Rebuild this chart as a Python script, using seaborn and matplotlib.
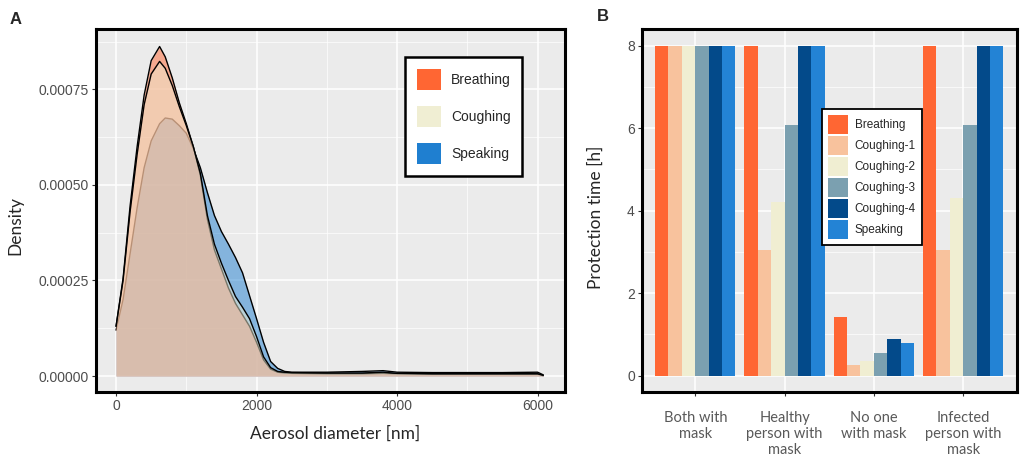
import pandas as pd
import seaborn as sns
import matplotlib.pyplot as plt
from matplotlib.patches import Patch

# === data ===
diam_nm = [0, 100, 200, 300, 400, 500, 620, 700, 800, 900, 1000, 1100, 1200, 1300,
           1400, 1500, 1600, 1700, 1800, 1900, 2000, 2100, 2200, 2300, 2400, 2500,
           3000, 3500, 3800, 4000, 4500, 5000, 5500, 6000, 6080]
# density in units of 1e-4
dens_breathing = [1.3, 2.55, 4.45, 6.0, 7.35, 8.25, 8.62, 8.35, 7.8, 7.15, 6.6, 6.0, 5.25, 4.1,
                  3.3, 2.8, 2.3, 1.9, 1.6, 1.3, 0.88, 0.42, 0.18, 0.1, 0.08, 0.07,
                  0.06, 0.06, 0.07, 0.06, 0.05, 0.05, 0.05, 0.05, 0.01]
dens_coughing = [1.3, 2.5, 4.3, 5.8, 7.1, 7.9, 8.23, 8.05, 7.6, 7.05, 6.55, 6.0, 5.3, 4.2,
                 3.45, 2.95, 2.5, 2.08, 1.8, 1.5, 1.03, 0.5, 0.22, 0.12, 0.1, 0.09,
                 0.08, 0.08, 0.1, 0.07, 0.06, 0.06, 0.06, 0.06, 0.02]
dens_speaking = [1.2, 2.0, 3.2, 4.4, 5.45, 6.15, 6.6, 6.75, 6.72, 6.55, 6.35, 5.95, 5.45, 4.8,
                 4.2, 3.78, 3.45, 3.1, 2.7, 2.1, 1.5, 0.88, 0.38, 0.2, 0.12, 0.1,
                 0.1, 0.12, 0.14, 0.1, 0.09, 0.09, 0.09, 0.1, 0.03]

scenarios = ["Both with\nmask", "Healthy\nperson with\nmask", "No one\nwith mask",
             "Infected\nperson with\nmask"]
activities = ["Breathing", "Coughing-1", "Coughing-2", "Coughing-3", "Coughing-4", "Speaking"]
hours_breathing = [8, 8, 1.43, 8]
hours_cough1 = [8, 3.04, 0.25, 3.04]
hours_cough2 = [8, 4.22, 0.36, 4.30]
hours_cough3 = [8, 6.09, 0.55, 6.09]
hours_cough4 = [8, 8, 0.89, 8]
hours_speaking = [8, 8, 0.78, 8]

# === style ===
sns.set_theme(style="darkgrid")
plt.rcParams["font.family"] = ["Liberation Sans", "DejaVu Sans"]
bg = "#EBEBEB"
tick_col = "#4D4D4D"

dens_colors = {"Breathing": "#FF6633", "Coughing": "#F0EED3", "Speaking": "#1F7FD0"}
bar_colors = ["#FF6633", "#F8C29D", "#F0EED2", "#7BA0B0", "#034A8A", "#2383D5"]

fig = plt.figure(figsize=(10.21, 4.58), dpi=100)
axA = fig.add_axes([0.0937, 0.1441, 0.4597, 0.7919])
axB = fig.add_axes([0.6285, 0.1441, 0.3673, 0.7919])


def style_axes(ax):
    ax.set_facecolor(bg)
    ax.grid(True, which="major", color="white", linewidth=1.1)
    ax.grid(True, which="minor", color="white", linewidth=0.5)
    for s in ax.spines.values():
        s.set_visible(True)
        s.set_color("black")
        s.set_linewidth(2.2)
    ax.tick_params(axis="both", which="major", length=3, width=0.8, color="#333333",
                   labelcolor=tick_col, labelsize=10, pad=2, bottom=True, left=True)
    ax.tick_params(axis="both", which="minor", length=0)


# === panel A : densities ===
dens = pd.DataFrame({
    "diam": diam_nm * 3,
    "density": [v * 1e-4 for v in dens_speaking + dens_breathing + dens_coughing],
    "Type": ["Speaking"] * len(diam_nm) + ["Breathing"] * len(diam_nm) + ["Coughing"] * len(diam_nm),
})
for z, name in enumerate(["Speaking", "Breathing", "Coughing"]):
    sub = dens[dens["Type"] == name]
    axA.fill_between(sub["diam"], sub["density"], 0, color=dens_colors[name], alpha=0.5,
                     linewidth=0, zorder=2 + 2 * z)
    sns.lineplot(data=sub, x="diam", y="density", color="black", linewidth=1.0,
                 ax=axA, zorder=3 + 2 * z, estimator=None, sort=False)

style_axes(axA)
axA.set_xlim(-290, 6390)
axA.set_ylim(-0.0000418, 0.000907)
axA.set_xticks([0, 2000, 4000, 6000])
axA.set_xticks([1000, 3000, 5000], minor=True)
axA.set_yticks([0, 0.00025, 0.0005, 0.00075])
axA.set_yticks([0.000125, 0.000375, 0.000625, 0.000875], minor=True)
axA.set_yticklabels(["0.00000", "0.00025", "0.00050", "0.00075"])
axA.set_xlabel("Aerosol diameter [nm]", fontsize=12.5, family=["Lato", "DejaVu Sans"])
axA.set_ylabel("Density", fontsize=12.5, family=["Lato", "DejaVu Sans"])
axA.xaxis.set_label_coords(0.511, -0.093)
axA.yaxis.set_label_coords(-0.155, 0.46)

hA = [Patch(facecolor=dens_colors[k], edgecolor="none") for k in ["Breathing", "Coughing", "Speaking"]]
legA = axA.legend(hA, ["Breathing", "Coughing", "Speaking"], loc="upper left",
                  bbox_to_anchor=(0.659, 0.924), fontsize=10, handlelength=1.78,
                  handleheight=2.02, labelspacing=1.1, handletextpad=0.68,
                  borderpad=0.85, borderaxespad=0, fancybox=False, framealpha=1)
legA.get_frame().set_edgecolor("black")
legA.get_frame().set_facecolor("white")
legA.get_frame().set_linewidth(1.8)
legA.set_zorder(20)

# === panel B : protection time bars ===
bars = pd.DataFrame({
    "Scenario": scenarios * len(activities),
    "Activity": [a for a in activities for _ in scenarios],
    "Hours": hours_breathing + hours_cough1 + hours_cough2 + hours_cough3 + hours_cough4 + hours_speaking,
})
sns.barplot(data=bars, x="Scenario", y="Hours", hue="Activity", order=scenarios,
            hue_order=activities, palette=bar_colors, width=0.9, saturation=1,
            linewidth=0, errorbar=None, ax=axB, zorder=3)
style_axes(axB)
axB.set_xlim(-0.6, 3.6)
axB.set_ylim(-0.4, 8.4)
axB.set_yticks([0, 2, 4, 6, 8])
axB.set_yticks([1, 3, 5, 7], minor=True)
axB.set_xlabel("")
axB.set_ylabel("Protection time [h]", fontsize=12.5, family=["Lato", "DejaVu Sans"])
axB.yaxis.set_label_coords(-0.1, 0.482)
axB.tick_params(axis="x", pad=11)
for lab in axB.get_xticklabels():
    lab.set_family(["Lato", "DejaVu Sans"])
    lab.set_fontsize(10.5)
    lab.set_color("#595959")
    lab.set_linespacing(1.15)

hB, lB = axB.get_legend_handles_labels()
axB.legend_.remove()
legB = axB.legend(hB, lB, loc="upper left", bbox_to_anchor=(0.48, 0.781), fontsize=8.5,
                  handlelength=1.7, handleheight=2.1, labelspacing=0.17, handletextpad=0.6,
                  borderpad=0.5, borderaxespad=0, fancybox=False, framealpha=1)
legB.get_frame().set_edgecolor("black")
legB.get_frame().set_facecolor("white")
legB.get_frame().set_linewidth(1.3)
legB.set_zorder(20)

# panel letters
fig.text(0.0098, 0.958, "A", fontsize=12, fontweight="bold", va="center")
fig.text(0.585, 0.963, "B", fontsize=12, fontweight="bold", va="center")

fig.savefig("out.png", dpi=100, facecolor="white")
